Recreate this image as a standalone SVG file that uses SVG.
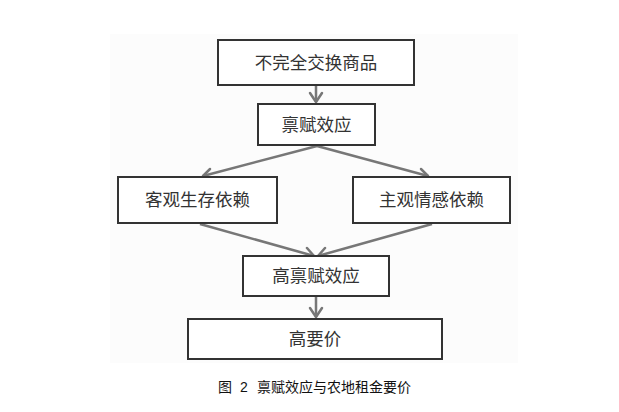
<svg xmlns="http://www.w3.org/2000/svg" width="619" height="412" viewBox="0 0 619 412">
<style>
.box{fill:#fff;stroke:#333;stroke-width:2}
.lbl{font-family:"Liberation Serif","Noto Sans CJK SC",serif;font-size:17.5px;fill:#333;text-anchor:middle;dominant-baseline:central}
.cap{font-family:"Liberation Sans","Noto Sans CJK SC",sans-serif;font-size:14px;fill:#111;dominant-baseline:central}
.con{stroke:#777;stroke-width:2.5;fill:none}
.head{stroke:#777;stroke-width:2.5;fill:none;stroke-linecap:round;stroke-linejoin:round}
</style>
<rect x="0" y="0" width="619" height="412" fill="#fff"/>
<rect x="110" y="34" width="408" height="329" fill="#fcfcfc"/>
<g id="connectors">
<line class="con" x1="316" y1="86" x2="316" y2="102"/>
<polyline class="head" points="310,93 316,102 322,93"/>
<line class="con" x1="317" y1="146" x2="203" y2="176"/>
<polyline class="head" points="210,169 203,176 213,178"/>
<line class="con" x1="317" y1="146" x2="428" y2="176"/>
<polyline class="head" points="418,178 428,176 421,169"/>
<line class="con" x1="200" y1="224" x2="314" y2="256"/>
<polyline class="head" points="304,257 314,256 307,248"/>
<line class="con" x1="432" y1="224" x2="318" y2="256"/>
<polyline class="head" points="325,248 318,256 328,257"/>
<line class="con" x1="316" y1="297" x2="316" y2="317"/>
<polyline class="head" points="310,308 316,317 322,308"/>
</g>
<g id="n1"><rect class="box" x="218" y="40" width="196" height="45"/><text class="lbl" x="316" y="62.5">不完全交换商品</text></g>
<g id="n2"><rect class="box" x="258" y="104" width="117" height="41"/><text class="lbl" x="316.5" y="124.5">禀赋效应</text></g>
<g id="n3"><rect class="box" x="118" y="177" width="159" height="46"/><text class="lbl" x="197.5" y="200">客观生存依赖</text></g>
<g id="n4"><rect class="box" x="353" y="177" width="157" height="46"/><text class="lbl" x="431.5" y="200">主观情感依赖</text></g>
<g id="n5"><rect class="box" x="243" y="256" width="146" height="40"/><text class="lbl" x="316" y="276">高禀赋效应</text></g>
<g id="n6"><rect class="box" x="188" y="319" width="254" height="40"/><text class="lbl" x="315" y="339">高要价</text></g>
<text class="cap" y="387"><tspan x="218">图</tspan><tspan x="240">2</tspan><tspan x="257">禀赋效应与农地租金要价</tspan></text>
</svg>
